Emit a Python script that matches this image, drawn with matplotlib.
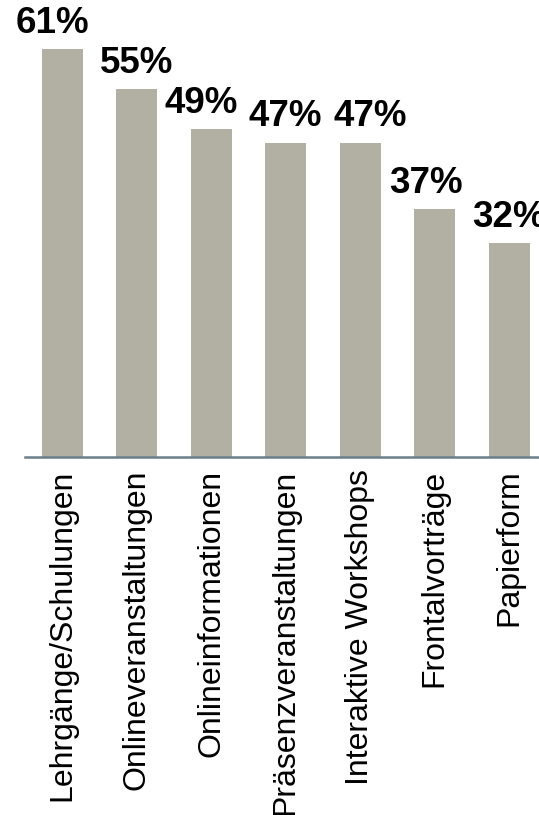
import matplotlib.pyplot as plt

kategorien = ["Lehrgänge/Schulungen", "Onlineveranstaltungen", "Onlineinformationen",
              "Präsenzveranstaltungen", "Interaktive Workshops", "Frontalvorträge", "Papierform"]
anteile = [61, 55, 49, 47, 47, 37, 32]
labels = ["61%", "55%", "49%", "47%", "47%", "37%", "32%"]

# horizontale Verschiebung der Beschriftungen (Punkte), wie im Original
label_dx = [-7, 0, -7, 0, 7, -6, 0]

plt.rcParams['font.family'] = ['Liberation Sans', 'DejaVu Sans']

fig = plt.figure(figsize=(5.39, 8.15), dpi=100)
ax = fig.add_axes([25/539, 1 - 457/815, 1 - 25/539, 455/815])

x = list(range(len(kategorien)))
ax.bar(x, anteile, width=0.55, color='#b1b0a2')
for xi, v, t, dx in zip(x, anteile, labels, label_dx):
    ax.annotate(t, (xi, v), xytext=(dx, 6), textcoords='offset points',
                ha='center', va='bottom', fontsize=26.5, fontweight='bold',
                annotation_clip=False)

ax.set_xlim(-0.5, 6.4)
ax.set_ylim(0, 68)
ax.set_xticks(x)
ax.set_xticklabels(kategorien, rotation=90, fontsize=23)
ax.tick_params(axis='x', length=0, pad=9)
ax.set_yticks([])
for s in ['top', 'right', 'left']:
    ax.spines[s].set_visible(False)
ax.spines['bottom'].set_color('#6b7f8a')
ax.spines['bottom'].set_linewidth(1.8)

fig.savefig('out.png', dpi=100)
